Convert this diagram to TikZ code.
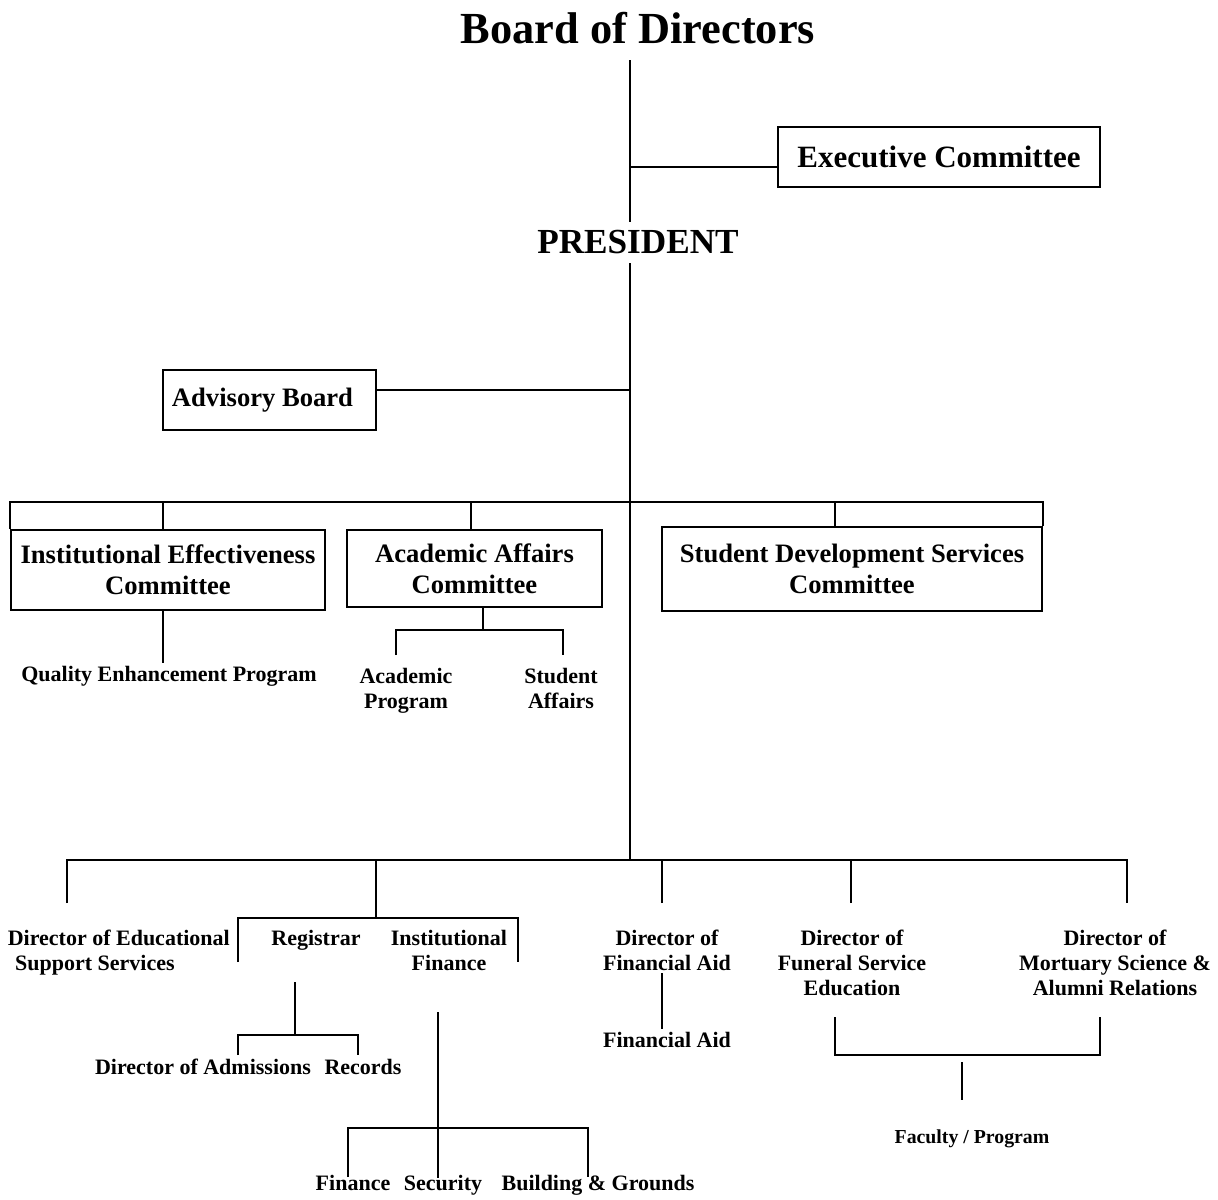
\documentclass[tikz,border=0pt]{standalone}
\usepackage{fontspec}
\setmainfont{Liberation Serif}
\usepackage{tikz}

\tikzset{
  box/.style={draw, line width=.8pt, inner sep=0pt, align=center,
    font=\bfseries\fontsize{13.3}{15.5}\selectfont},
  lbl/.style={inner sep=1pt, align=center,
    font=\bfseries\fontsize{11}{12.5}\selectfont},
}

\begin{document}
\begin{tikzpicture}[x=.5pt, y=-.5pt, line width=.8pt]
    \useasboundingbox (0,0) rectangle (1218,1199);
    % top of the chart
    \node[font=\bfseries\fontsize{22.2}{26}\selectfont] (board) at (638,28) {Board of Directors};
    \node[font=\bfseries\fontsize{17.6}{20}\selectfont] (pres) at (638,242) {PRESIDENT};
    \node[box, minimum width=161pt, minimum height=30pt,
      font=\bfseries\fontsize{15.5}{18}\selectfont] (exec) at (939,157) {\raisebox{-2pt}{Executive Committee}};
    \node[box, minimum width=106.5pt, minimum height=30pt] (adv) at (269.5,400) {Advisory Board\hspace{7pt}};
    % committees
    \node[box, minimum width=157pt, minimum height=40pt] (iec) at (168,570) {Institutional Effectiveness\\Committee};
    \node[box, minimum width=127.5pt, minimum height=38.5pt] (aac) at (474.5,568.5) {Academic Affairs\\Committee};
    \node[box, minimum width=190pt, minimum height=42pt] (sdsc) at (852,569) {Student Development Services\\Committee\hspace{10pt}};
    \node[lbl] (qep) at (169,676) {Quality Enhancement Program};
    \node[lbl] (acprog) at (406,691) {Academic\\Program};
    \node[lbl] (staff) at (561,688) {Student\\Affairs};
    % directors
    \node[lbl, anchor=west, align=left] (dess) at (5,953) {Director of Educational\\\,\,Support Services};
    \node[lbl] (reg) at (316,940) {Registrar};
    \node[lbl] (ifin) at (449,950) {Institutional\\Finance};
    \node[lbl] (dfa) at (667,950) {Director of\\Financial Aid};
    \node[lbl] (dfse) at (852,963) {Director of\\Funeral Service\\Education};
    \node[lbl] (dmsa) at (1115,963) {Director of\\Mortuary Science \&\\Alumni Relations};
    \node[lbl] (finaid) at (667,1040) {Financial Aid};
    \node[lbl] (dadm) at (203,1067) {Director of Admissions};
    \node[lbl] (recs) at (363,1067) {Records};
    \node[lbl] (fin) at (353,1183) {Finance};
    \node[lbl] (secu) at (443,1185) {Security};
    \node[lbl] (bldg) at (598,1185) {Building \& Grounds};
    \node[lbl, font=\bfseries\fontsize{9.9}{12}\selectfont] (facp) at (972,1139) {Faculty / Program};

    % spine
    \coordinate (s0) at (630,60);
    \coordinate (s1) at (630,222);
    \coordinate (s2) at (630,263);
    \coordinate (bus1) at (630,502);
    \coordinate (bus2) at (630,860);
    \draw (s0) -- (s1);
    \draw (s2) -- (bus2);
    \draw ([yshift=-5pt]exec.west) -- ([yshift=-5pt]exec.west -| s0);
    \draw ([yshift=5pt]adv.east) -- ([yshift=5pt]adv.east -| s0);

    % committee bus
    \draw (iec.north west) -- (iec.north west |- bus1) -- (sdsc.north east |- bus1) -- (sdsc.north east);
    \draw ([xshift=-2.5pt]iec.north) -- ([xshift=-2.5pt]iec.north |- bus1);
    \draw ([xshift=-1.75pt]aac.north) -- ([xshift=-1.75pt]aac.north |- bus1);
    \draw ([xshift=-8.5pt]sdsc.north) -- ([xshift=-8.5pt]sdsc.north |- bus1);
    \draw ([xshift=-2.5pt]iec.south) -- ([xshift=-2.5pt]iec.south |- qep.north);
    \coordinate (aaj) at (483,630);
    \coordinate (aal) at (396,655);
    \coordinate (aar) at (563,655);
    \draw ([xshift=4.25pt]aac.south) -- (aaj);
    \draw (aal) |- (aaj) -| (aar);

    % directors bus
    \coordinate (b1) at (67,903);
    \coordinate (b2) at (376,918);
    \coordinate (b3) at (662,903);
    \coordinate (b4) at (851,903);
    \coordinate (b5) at (1127,903);
    \draw (b1) |- (bus2) -| (b5);
    \foreach \c in {b2,b3,b4}{
      \draw (\c) -- (\c |- bus2);
    }
    \coordinate (rl) at (238,962);
    \coordinate (rr) at (518,962);
    \draw (rl) |- (b2) -| (rr);

    % registrar
    \coordinate (rtop) at (295,982);
    \coordinate (regj) at (295,1035);
    \coordinate (al) at (238,1055);
    \coordinate (ar) at (358,1055);
    \draw (rtop) -- (regj);
    \draw (al) |- (regj) -| (ar);

    % institutional finance
    \coordinate (ftop) at (438,1012);
    \coordinate (fbot) at (438,1178);
    \coordinate (fj) at (438,1128);
    \coordinate (fl) at (348,1177);
    \coordinate (fr) at (588,1177);
    \draw (ftop) -- (fbot);
    \draw (fl) |- (fj) -| (fr);

    % financial aid
    \draw ([xshift=-2.5pt]dfa.south) -- ([xshift=-2.5pt]dfa.south |- finaid.north);

    % faculty
    \coordinate (fsl) at (835,1017);
    \coordinate (fsr) at (1100,1017);
    \coordinate (fsj) at (962,1055);
    \coordinate (fpt) at (962,1062);
    \coordinate (fpb) at (962,1100);
    \draw (fsl) |- (fsj) -| (fsr);
    \draw (fpt) -- (fpb);
\end{tikzpicture}
\end{document}
